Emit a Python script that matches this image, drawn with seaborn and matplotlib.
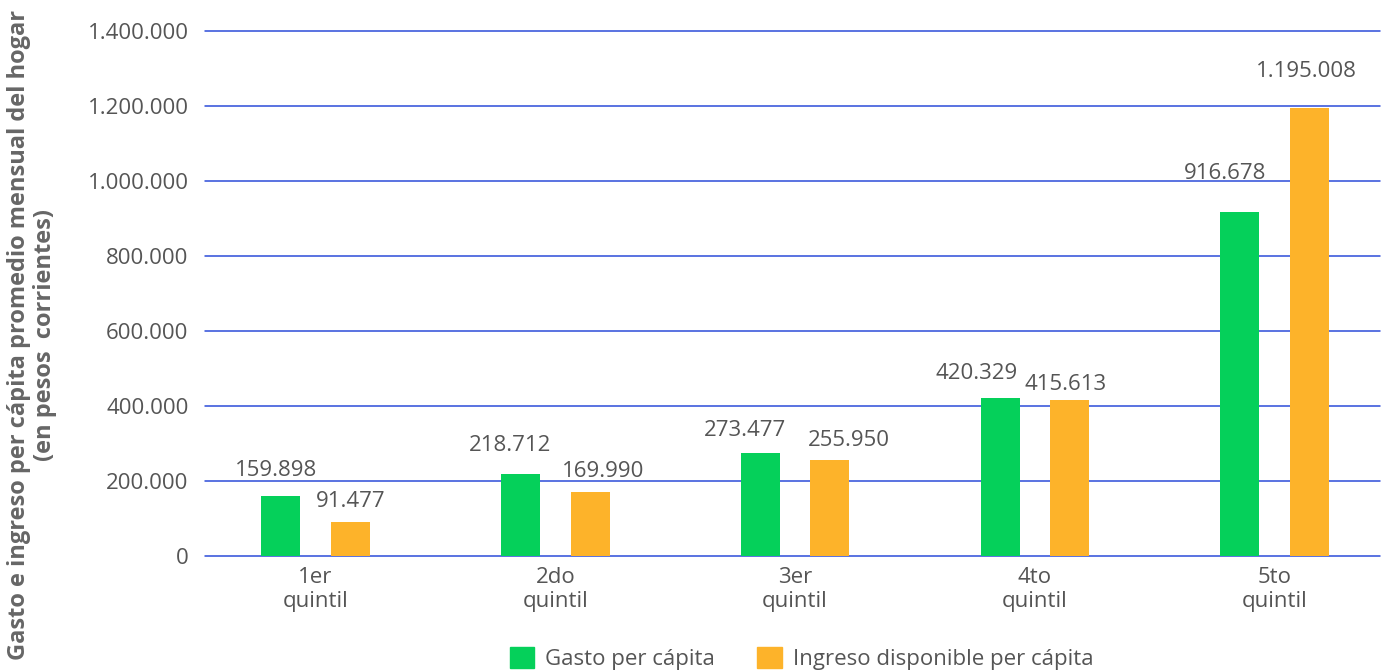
import numpy as np
import pandas as pd
import seaborn as sns
import matplotlib.pyplot as plt
from matplotlib.ticker import FuncFormatter

sns.set_theme(style="white")
plt.rcParams['font.family'] = ['Open Sans', 'DejaVu Sans']

quintiles = ['1er\nquintil', '2do\nquintil', '3er\nquintil', '4to\nquintil', '5to\nquintil']
series = ['Gasto per cápita', 'Ingreso disponible per cápita']
gasto = [159898, 218712, 273477, 420329, 916678]
ingreso = [91477, 169990, 255950, 415613, 1195008]

# hand placed label nudges in the original (dx, gap above bar) in pixels
nudge = [[(-5, 20), (-10, 23), (-15, 17), (-23, 19), (-15, 33)],
         [(0, 15), (13, 15), (19, 14), (-4, 10), (-3, 31)]]

df = pd.DataFrame({
    'quintil': quintiles * 2,
    'serie': [series[0]] * 5 + [series[1]] * 5,
    'valor': gasto + ingreso,
})

def miles(v):
    return f"{v:,.0f}".replace(",", ".")

txt = '#555555'
colors = ['#05d05a', '#fdb32a']
fig = plt.figure(figsize=(13.87, 6.70), dpi=100)
ax = fig.add_axes([0.148, 0.170, 0.847, 0.784])

sns.barplot(data=df, x='quintil', y='valor', hue='serie',
            palette=colors, width=0.58, gap=0.44, linewidth=0,
            saturation=1, ax=ax, zorder=3)

ax.set_ylim(0, 1400000)
ax.set_xlim(-0.46, 4.44)
ax.set_yticks(np.arange(0, 1400001, 200000))
ax.yaxis.set_major_formatter(FuncFormatter(lambda v, p: miles(v)))
ax.grid(axis='y', color='#2c4bd8', linewidth=1.1, zorder=0)
for gl in ax.get_ygridlines():
    gl.set_clip_on(False)
ax.set_axisbelow(True)
for s in ax.spines.values():
    s.set_visible(False)
ax.tick_params(axis='both', length=0, labelsize=16, colors=txt, pad=8)
ax.tick_params(axis='y', pad=12)
ax.set_xlabel('')
ax.set_ylabel('')

for cont, nd in zip(ax.containers, nudge):
    for bar, (dx, dy) in zip(cont, nd):
        h = bar.get_height()
        ax.annotate(miles(h), (bar.get_x() + bar.get_width() / 2, h),
                    xytext=(dx * 0.72, dy * 0.72), textcoords='offset points',
                    ha='center', va='baseline', fontsize=16, color=txt)

fig.text(0.023, 0.5, 'Gasto e ingreso per cápita promedio mensual del hogar\n(en pesos  corrientes)',
         rotation=90, ha='center', va='center', fontsize=17, fontweight='bold',
         color='#666666', linespacing=1.1)

ax.legend_.remove()
handles = [plt.Rectangle((0, 0), 1, 1, color=c) for c in colors]
fig.legend(handles, series, loc='lower center', bbox_to_anchor=(0.578, -0.030),
           ncol=2, frameon=False, fontsize=16, labelcolor=txt,
           handlelength=1.1, handleheight=1.1, columnspacing=1.9, handletextpad=0.5)

fig.savefig('out.png', dpi=100)
